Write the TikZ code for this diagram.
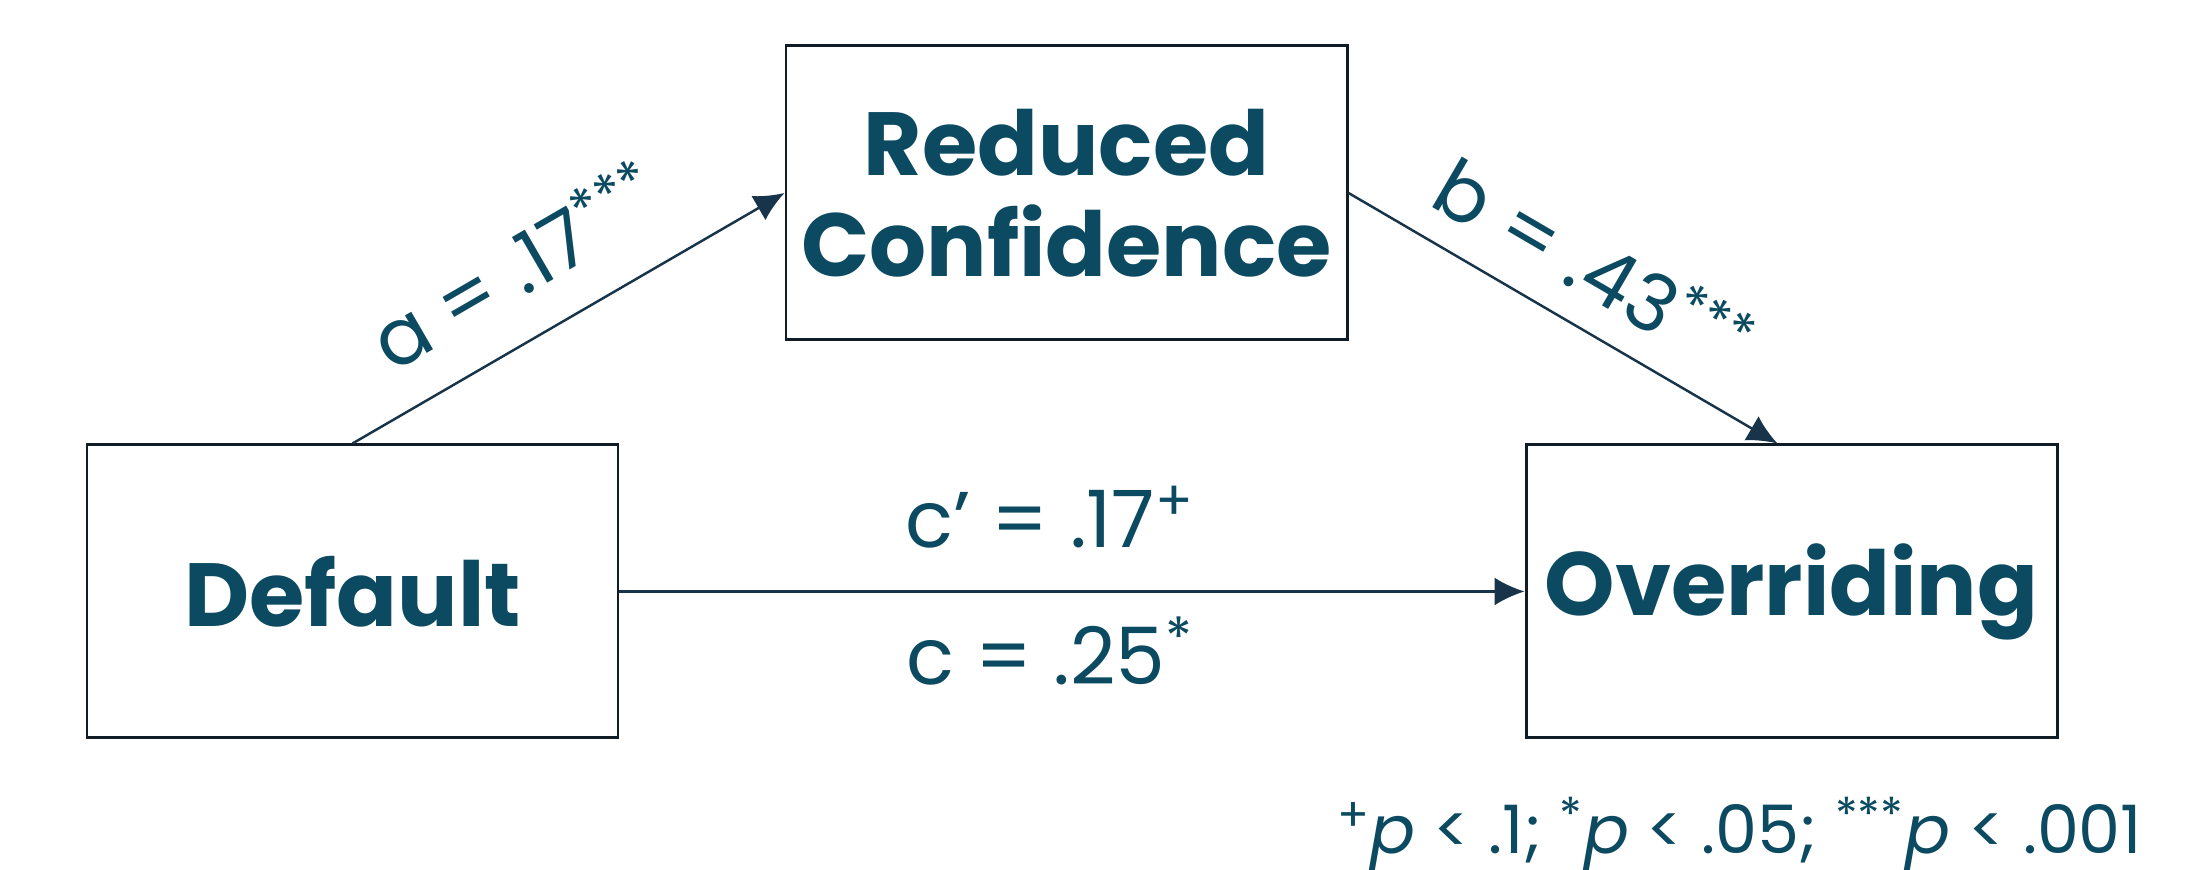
\documentclass[tikz,border=0pt]{standalone}
\usepackage{fontspec}
\setmainfont{Poppins}
\usetikzlibrary{arrows.meta}
\definecolor{tealtext}{HTML}{0B4A60}
\definecolor{navyline}{HTML}{17344A}
\definecolor{boxline}{HTML}{101C26}

\begin{document}
\begin{tikzpicture}[
        block/.style={rectangle, draw=boxline, line width=0.85pt, minimum width=5.31cm, minimum height=2.93cm, align=center, text=tealtext, font=\fontsize{25.5}{28.7}\selectfont\bfseries},
        coef/.style={text=tealtext, font=\fontsize{22.5}{27}\selectfont, inner sep=2pt},
        line/.style={draw=navyline, line width=0.7pt, -{Latex[length=0.3cm,width=0.28cm]}}
    ]
        \useasboundingbox (0,0) rectangle (21.93,8.70);

        \node[block] (default) at (3.525, 2.785) {Default};
        \node[block, minimum width=5.61cm, minimum height=2.94cm] (reduced) at (10.665, 6.77) {Reduced\\Confidence};
        \node[block] (overriding) at (17.915, 2.785) {Overriding};

        \draw[line] (default.north) -- node[coef, sloped, above=9pt, pos=0.46] (alabel) {a = .17\textsuperscript{***}} (reduced.west);
        \draw[line] (reduced.east) -- node[coef, sloped, above=6pt, pos=0.5] (blabel) {b = .43\textsuperscript{***}} ([xshift=-0.14cm]overriding.north);
        \draw[line] (default) -- node[coef, above=10pt, xshift=-0.22cm] (cplabel) {c’ = .17\textsuperscript{+}}
            node[coef, below=5pt, xshift=-0.22cm] (clabel) {c = .25\textsuperscript{*}} (overriding);

        \node[coef, font=\fontsize{19}{23}\selectfont, anchor=base east] (note) at (21.5, 0.16)
            {\textsuperscript{+}\textit{p} < .1; \textsuperscript{*}\textit{p} < .05; \textsuperscript{***}\textit{p} < .001};
    \end{tikzpicture}
\end{document}
